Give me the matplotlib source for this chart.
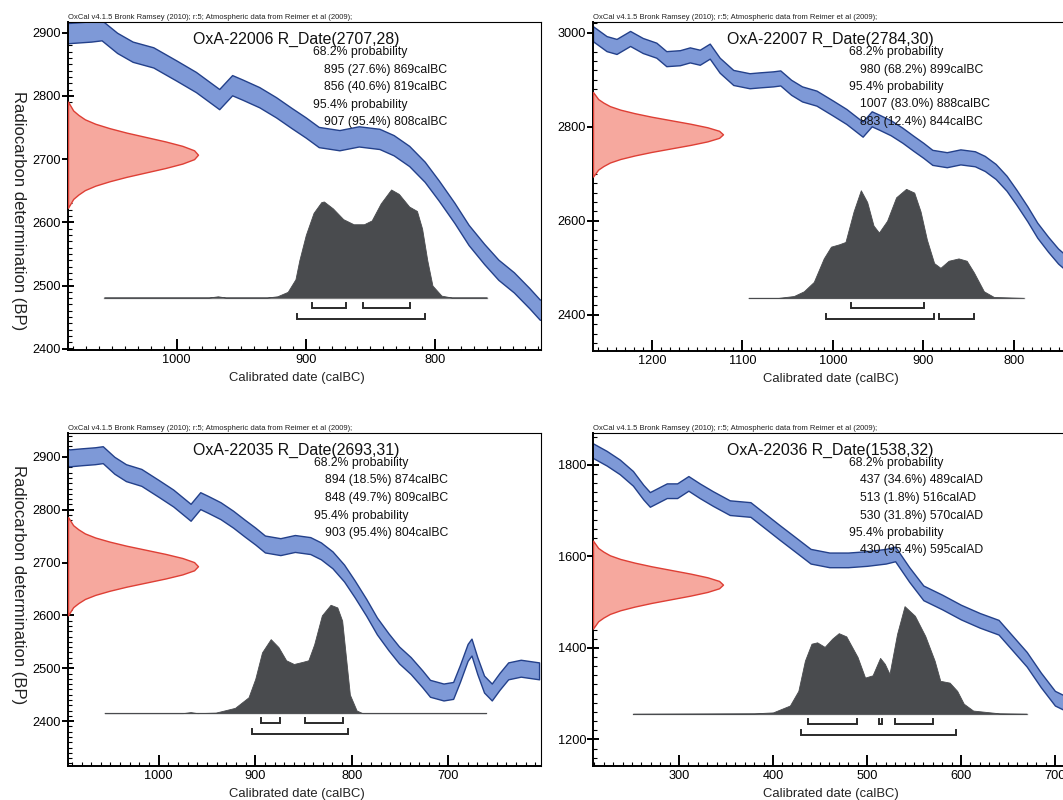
import matplotlib
matplotlib.use('Agg')
import matplotlib.pyplot as plt
from matplotlib.ticker import MultipleLocator

plt.rcParams['font.family'] = ['Liberation Sans', 'DejaVu Sans']

# IntCal09 curve (BC part, years calBC -> BP centre)
cal_bc = [1265, 1250, 1239, 1224, 1210, 1195, 1184, 1169, 1158, 1147, 1136, 1125, 1110, 1092,
          1080, 1066, 1058, 1046, 1034, 1018, 1000, 985, 977, 967, 957, 949, 936, 923, 911,
          900, 890, 874, 859, 843, 832, 820, 808, 797, 785, 774, 762, 751, 739, 727, 719,
          705, 695, 688, 680, 676, 670, 663, 655, 647, 638, 625, 606]
cal_bc_bp = [2998, 2977, 2971, 2988, 2973, 2963, 2945, 2947, 2953, 2948, 2961, 2931, 2905, 2898,
             2900, 2902, 2904, 2884, 2870, 2861, 2840, 2822, 2810, 2795, 2817, 2810, 2798, 2782, 2765,
             2750, 2735, 2730, 2736, 2732, 2722, 2705, 2680, 2650, 2615, 2580, 2550, 2525, 2505, 2480, 2462,
             2455, 2458, 2490, 2530, 2540, 2505, 2470, 2455, 2475, 2495, 2500, 2495]
# AD part
cal_ad = [208, 223, 237, 251, 262, 269, 287, 298, 310, 322, 336, 354, 376, 394, 407, 421, 440,
          460, 480, 500, 520, 530, 545, 560, 580, 600, 620, 640, 655, 670, 685, 700, 710, 730, 765]
cal_ad_bp = [1831, 1814, 1795, 1770, 1740, 1724, 1743, 1743, 1759, 1743, 1726, 1706, 1702, 1673, 1652, 1630, 1600,
             1592, 1592, 1595, 1600, 1605, 1560, 1520, 1500, 1478, 1460, 1445, 1410, 1375, 1330, 1290, 1280, 1280, 1275]
cal_err = 16

# shape of the red radiocarbon distribution, -3..3 sigma in 0.25 steps
red_prof = [0.0, 0.02, 0.04, 0.08, 0.13, 0.21, 0.32, 0.45, 0.60, 0.75, 0.88, 0.97, 1.0,
            0.97, 0.88, 0.75, 0.60, 0.45, 0.32, 0.21, 0.13, 0.08, 0.04, 0.02, 0.0]

# calibrated (posterior) distributions
tl_post_x = [1056, 975, 968, 962, 930, 922, 914, 908, 905, 900, 894, 888, 886, 879, 871, 863, 855,
             849, 842, 834, 828, 820, 814, 810, 806, 802, 795, 787, 760]
tl_post_y = [2481, 2481, 2483, 2481, 2481, 2483, 2490, 2510, 2540, 2580, 2615, 2632, 2633, 2622, 2605, 2597, 2597,
             2603, 2630, 2652, 2645, 2625, 2618, 2590, 2540, 2500, 2484, 2481, 2481]
tr_post_x = [1093, 1060, 1043, 1032, 1021, 1010, 1002, 993, 986, 977, 969, 962, 955, 949, 940, 930, 919,
             910, 903, 896, 888, 881, 872, 861, 852, 844, 833, 822, 789]
tr_post_y = [2436, 2436, 2440, 2450, 2470, 2520, 2545, 2550, 2555, 2620, 2665, 2640, 2590, 2575, 2600, 2650, 2668,
             2660, 2620, 2560, 2510, 2500, 2515, 2520, 2515, 2490, 2450, 2438, 2436]
bl_post_x = [1056, 975, 967, 960, 941, 921, 907, 900, 893, 884, 876, 868, 860, 851, 845, 839, 831, 822,
             815, 810, 806, 802, 795, 789, 661]
bl_post_y = [2415, 2415, 2417, 2415, 2416, 2425, 2445, 2480, 2530, 2555, 2540, 2515, 2508, 2512, 2515, 2545, 2600, 2620,
             2615, 2590, 2520, 2450, 2420, 2415, 2415]
br_post_x = [251, 380, 400, 418, 427, 434, 441, 447, 455, 463, 470, 478, 490, 498, 506, 514, 519, 524, 532,
             540, 551, 562, 572, 578, 588, 596, 603, 613, 641, 670]
br_post_y = [1256, 1257, 1259, 1274, 1306, 1372, 1409, 1412, 1402, 1420, 1432, 1425, 1380, 1335, 1340, 1378, 1365, 1343, 1430,
             1491, 1470, 1426, 1372, 1328, 1324, 1306, 1278, 1263, 1257, 1256]

tl_r68 = [(895, 869), (856, 819)]
tl_r95 = [(907, 808)]
tr_r68 = [(980, 899)]
tr_r95 = [(1007, 888), (883, 844)]
bl_r68 = [(894, 874), (848, 809)]
bl_r95 = [(903, 804)]
br_r68 = [(437, 489), (513, 516), (530, 570)]
br_r95 = [(430, 595)]

tl_text = ['68.2% probability', '895 (27.6%) 869calBC', '856 (40.6%) 819calBC',
           '95.4% probability', '907 (95.4%) 808calBC']
tr_text = ['68.2% probability', '980 (68.2%) 899calBC', '95.4% probability',
           '1007 (83.0%) 888calBC', '883 (12.4%) 844calBC']
bl_text = ['68.2% probability', '894 (18.5%) 874calBC', '848 (49.7%) 809calBC',
           '95.4% probability', '903 (95.4%) 804calBC']
br_text = ['68.2% probability', '437 (34.6%) 489calAD', '513 (1.8%) 516calAD', '530 (31.8%) 570calAD',
           '95.4% probability', '430 (95.4%) 595calAD']

header = 'OxCal v4.1.5 Bronk Ramsey (2010); r:5; Atmospheric data from Reimer et al (2009);'

W, H = 1063, 800
fig = plt.figure(figsize=(W / 100, H / 100), dpi=100)

panels = [
    dict(pos=[68, 22, 473, 328], xlim=(1084, 718), ylim=(2398, 2917), ymaj=100, ymin=10,
         cx=cal_bc, cy=cal_bc_bp, title='OxA-22006 R_Date(2707,28)', mean=2707, sd=28,
         px=tl_post_x, py=tl_post_y, base=2481, r68=tl_r68, r95=tl_r95, txt=tl_text,
         tdx=228, pdx=245, ylab=(18, 211)),
    dict(pos=[593, 22, 523, 329], xlim=(1265, 687), ylim=(2323, 3023), ymaj=200, ymin=20,
         cx=cal_bc, cy=cal_bc_bp, title='OxA-22007 R_Date(2784,30)', mean=2784, sd=30,
         px=tr_post_x, py=tr_post_y, base=2436, r68=tr_r68, r95=tr_r95, txt=tr_text,
         tdx=237, pdx=256, ylab=None),
    dict(pos=[68, 433, 473, 333], xlim=(1094, 604), ylim=(2315, 2945), ymaj=100, ymin=10,
         cx=cal_bc, cy=cal_bc_bp, title='OxA-22035 R_Date(2693,31)', mean=2693, sd=31,
         px=bl_post_x, py=bl_post_y, base=2415, r68=bl_r68, r95=bl_r95, txt=bl_text,
         tdx=228, pdx=246, ylab=(18, 585)),
    dict(pos=[593, 433, 523, 333], xlim=(208.5, 765), ylim=(1142, 1869), ymaj=200, ymin=20,
         cx=cal_ad, cy=cal_ad_bp, title='OxA-22036 R_Date(1538,32)', mean=1538, sd=32,
         px=br_post_x, py=br_post_y, base=1256, r68=br_r68, r95=br_r95, txt=br_text,
         tdx=237, pdx=256, ylab=None),
]

for p in panels:
    l, t, w, h = p['pos']
    ax = fig.add_axes([l / W, 1 - (t + h) / H, w / W, h / H])
    ax.set_xlim(p['xlim'])
    ax.set_ylim(p['ylim'])
    ppb = h / (p['ylim'][1] - p['ylim'][0])  # pixels per BP

    # calibration curve band
    lo = [c - cal_err for c in p['cy']]
    hi = [c + cal_err for c in p['cy']]
    ax.fill_between(p['cx'], lo, hi, facecolor='#7e99d7', edgecolor='#23408a', lw=1.0, zorder=2)

    # radiocarbon date on y axis
    x0, x1 = p['xlim']
    frac = 130.0 / w
    ry = [p['mean'] + (i * 0.25 - 3) * p['sd'] for i in range(len(red_prof))]
    rx = [x0 + frac * (x1 - x0) * v for v in red_prof]
    ax.fill_betweenx(ry, x0, rx, facecolor='#f6a89e', edgecolor='#de3f35', lw=1.0, zorder=3)

    # calibrated distribution
    ax.plot([p['px'][0], p['px'][-1]], [p['base'], p['base']], color='#a8a8a8', lw=1.0, zorder=3)
    ax.fill_between(p['px'], p['base'], p['py'], facecolor='#494b4e', edgecolor='#494b4e',
                    lw=0.6, zorder=4)

    # range brackets
    for rng, off in ((p['r68'], 10), (p['r95'], 21)):
        yl = p['base'] - off / ppb
        yt = yl + 5 / ppb
        for a, b in rng:
            ax.plot([a, a, b, b], [yt, yl, yl, yt], color='#2a2a2a', lw=1.4, zorder=5,
                    solid_joinstyle='miter')

    # texts
    ax.annotate(p['title'], xy=(0, 1), xycoords='axes fraction', xytext=(p['tdx'] * 0.72, -17 * 0.72),
                textcoords='offset points', ha='center', va='center', fontsize=11.4, color='#111111')
    for i, s in enumerate(p['txt']):
        ind = 0 if 'probability' in s else 11
        ax.annotate(s, xy=(0, 1), xycoords='axes fraction',
                    xytext=((p['pdx'] + ind) * 0.72, -(30 + 17.5 * i) * 0.72),
                    textcoords='offset points', ha='left', va='center', fontsize=8.8, color='#111111')
    ax.annotate(header, xy=(0, 1), xycoords='axes fraction', xytext=(0, 0.5),
                textcoords='offset points', ha='left', va='bottom', fontsize=5.5, color='#222222')

    # axes style
    ax.xaxis.set_major_locator(MultipleLocator(100))
    ax.xaxis.set_minor_locator(MultipleLocator(10))
    ax.yaxis.set_major_locator(MultipleLocator(p['ymaj']))
    ax.yaxis.set_minor_locator(MultipleLocator(p['ymin']))
    ax.tick_params(axis='x', which='major', direction='in', length=8, width=1.4, labelsize=9.2, pad=3)
    ax.tick_params(axis='x', which='minor', direction='in', length=3, width=0.8)
    ax.tick_params(axis='y', which='major', direction='inout', length=8, width=1.4, labelsize=9.2, pad=1)
    ax.tick_params(axis='y', which='minor', direction='in', length=3, width=0.8)
    ax.spines['left'].set_linewidth(1.4)
    ax.spines['bottom'].set_linewidth(1.4)
    ax.spines['top'].set_linewidth(0.8)
    ax.spines['right'].set_linewidth(0.8)

    fig.text((l + p['tdx'] + 1) / W, 1 - (t + h + 28) / H, 'Calibrated date (calBC)',
             ha='center', va='center', fontsize=9.4, color='#222222')
    if p['ylab']:
        fig.text(p['ylab'][0] / W, 1 - p['ylab'][1] / H, 'Radiocarbon determination (BP)',
                 rotation=-90, ha='center', va='center', fontsize=12, color='#222222')

fig.savefig('out.png', dpi=100)
